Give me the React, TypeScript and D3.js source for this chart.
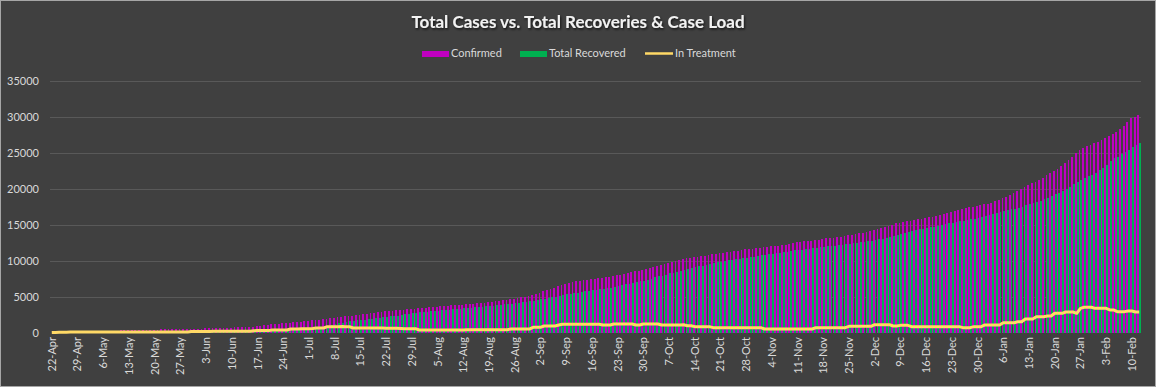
import React from 'react';
import * as d3 from 'd3';

const W = 1156;
const H = 387;
const FONT = 'Lato, "Liberation Sans", sans-serif';

const firstDay = new Date(2020, 3, 22);

// daily totals, one row per week
const confirmed = [
  60, 80, 100, 120, 150, 190, 235,
  240, 245, 250, 260, 265, 270, 280,
  290, 300, 310, 320, 340, 360, 380,
  400, 415, 420, 430, 440, 450, 460,
  470, 480, 490, 500, 505, 510, 520,
  530, 540, 555, 560, 580, 600, 620,
  640, 660, 680, 700, 715, 725, 735,
  760, 790, 810, 830, 850, 870, 900,
  950, 1000, 1060, 1120, 1180, 1240, 1300,
  1340, 1380, 1430, 1480, 1530, 1580, 1640,
  1690, 1740, 1790, 1840, 1900, 1960, 2030,
  2090, 2160, 2220, 2290, 2350, 2420, 2490,
  2540, 2600, 2680, 2760, 2840, 2920, 2980,
  3020, 3050, 3100, 3150, 3200, 3250, 3290,
  3340, 3380, 3420, 3470, 3510, 3560, 3600,
  3650, 3700, 3740, 3780, 3820, 3860, 3890,
  3930, 3960, 3980, 4030, 4090, 4150, 4200,
  4250, 4330, 4410, 4490, 4570, 4640, 4700,
  4780, 4860, 4950, 5050, 5150, 5260, 5400,
  5600, 5800, 5960, 6100, 6280, 6450, 6620,
  6790, 6920, 7050, 7170, 7250, 7320, 7380,
  7440, 7520, 7600, 7680, 7740, 7800, 7900,
  8000, 8100, 8200, 8300, 8420, 8530, 8640,
  8730, 8880, 9050, 9200, 9330, 9420, 9600,
  9750, 9880, 9980, 10100, 10210, 10330, 10450,
  10530, 10580, 10660, 10740, 10820, 10900, 10980,
  11060, 11140, 11200, 11270, 11350, 11430, 11520,
  11600, 11650, 11700, 11760, 11820, 11870, 11930,
  12000, 12060, 12120, 12150, 12200, 12400, 12520,
  12570, 12630, 12690, 12740, 12790, 12880, 12960,
  13050, 13120, 13170, 13230, 13290, 13360, 13440,
  13520, 13600, 13700, 13800, 13900, 14030, 14160,
  14290, 14400, 14510, 14650, 14800, 14990, 15200,
  15280, 15370, 15460, 15560, 15660, 15750, 15850,
  15940, 16030, 16120, 16250, 16380, 16530, 16680,
  16800, 16930, 17060, 17170, 17280, 17400, 17520,
  17650, 17760, 17830, 17950, 18080, 18250, 18430,
  18650, 18870, 19100, 19360, 19650, 19950, 20250,
  20500, 20750, 21000, 21250, 21550, 21900, 22200,
  22500, 22800, 23150, 23520, 23950, 24400, 24900,
  25360, 25650, 25900, 26100, 26300, 26510, 26750,
  27000, 27250, 27580, 27900, 28300, 28750, 29200,
  29760, 30000, 30210,
];

const recovered = [
  0, 0, 0, 0, 0, 0, 0,
  0, 0, 0, 0, 0, 0, 0,
  0, 0, 0, 0, 20, 100, 180,
  200, 200, 200, 200, 210, 210, 210,
  210, 210, 220, 220, 220, 220, 230,
  230, 230, 240, 240, 240, 250, 250,
  250, 260, 260, 270, 270, 280, 280,
  290, 290, 300, 300, 310, 320, 330,
  340, 360, 380, 400, 420, 430, 435,
  440, 450, 460, 480, 500, 510, 570,
  640, 700, 760, 830, 900, 970, 1100,
  1250, 1340, 1430, 1520, 1610, 1690, 1760,
  1800, 1860, 1920, 1970, 2030, 2100, 2170,
  2230, 2290, 2350, 2420, 2500, 2580, 2660,
  2730, 2790, 2850, 2910, 2960, 2990, 3030,
  3080, 3130, 3170, 3210, 3260, 3310, 3360,
  3420, 3470, 3510, 3560, 3610, 3650, 3700,
  3740, 3790, 3850, 3910, 3960, 4000, 4050,
  4100, 4180, 4250, 4330, 4410, 4490, 4570,
  4650, 4730, 4840, 4950, 5030, 5130, 5240,
  5360, 5440, 5520, 5600, 5700, 5800, 5880,
  5960, 6020, 6080, 6150, 6220, 6280, 6420,
  6550, 6650, 6760, 6860, 6960, 7060, 7150,
  7250, 7400, 7550, 7700, 7850, 7950, 8100,
  8250, 8380, 8500, 8620, 8750, 8860, 8980,
  9100, 9220, 9350, 9460, 9570, 9660, 9780,
  9900, 10000, 10080, 10150, 10230, 10300, 10370,
  10440, 10520, 10600, 10680, 10760, 10840, 10910,
  10980, 11050, 11130, 11200, 11280, 11360, 11450,
  11520, 11570, 11620, 11680, 11740, 11800, 11870,
  11940, 12000, 12060, 12120, 12180, 12250, 12330,
  12400, 12460, 12520, 12590, 12650, 12730, 12820,
  12900, 12980, 13060, 13180, 13300, 13440, 13580,
  13720, 13860, 14000, 14140, 14280, 14360, 14460,
  14560, 14650, 14740, 14850, 14960, 15070, 15180,
  15260, 15370, 15480, 15580, 15660, 15760, 15870,
  16000, 16130, 16260, 16400, 16540, 16680, 16810,
  16900, 17000, 17120, 17250, 17380, 17520, 17680,
  17850, 17970, 18150, 18350, 18550, 18750, 18950,
  19200, 19450, 19700, 20000, 20300, 20600, 20900,
  21200, 21450, 21700, 21950, 22200, 22590, 22900,
  23300, 23800, 24200, 24440, 24750, 25050, 25400,
  25820, 26050, 26290,
];

const inTreatment = [
  60, 80, 100, 110, 120, 130, 130,
  130, 130, 130, 140, 140, 140, 140,
  140, 140, 140, 140, 150, 150, 150,
  150, 150, 150, 150, 150, 150, 150,
  150, 150, 150, 150, 150, 150, 150,
  150, 150, 150, 210, 220, 220, 220,
  220, 220, 230, 230, 230, 230, 230,
  230, 240, 240, 240, 240, 250, 320,
  330, 330, 340, 330, 415, 415, 415,
  415, 415, 555, 555, 560, 600, 600,
  600, 610, 690, 690, 690, 880, 880,
  880, 880, 890, 880, 880, 690, 690,
  690, 700, 690, 690, 690, 690, 690,
  660, 650, 650, 650, 640, 600, 600,
  600, 600, 415, 415, 415, 415, 420,
  415, 415, 415, 415, 415, 420, 415,
  415, 460, 460, 460, 460, 460, 460,
  460, 460, 460, 460, 460, 460, 550,
  550, 550, 550, 550, 550, 780, 780,
  780, 970, 970, 970, 970, 1100, 1200,
  1200, 1200, 1200, 1210, 1200, 1200, 1200,
  1200, 1200, 1200, 1110, 1110, 1110, 1250,
  1250, 1250, 1250, 1250, 1250, 1110, 1110,
  1250, 1250, 1250, 1250, 1250, 1110, 1110,
  1110, 1110, 1110, 1110, 1150, 1010, 1010,
  880, 880, 880, 880, 880, 740, 740,
  740, 740, 740, 740, 740, 740, 740,
  740, 740, 740, 740, 740, 555, 555,
  555, 555, 555, 555, 555, 555, 555,
  555, 555, 555, 555, 555, 740, 740,
  740, 740, 740, 740, 740, 740, 740,
  920, 920, 920, 920, 920, 920, 920,
  1150, 1150, 1150, 1150, 1150, 970, 970,
  1060, 1060, 1060, 880, 880, 880, 880,
  880, 880, 880, 880, 880, 880, 880,
  880, 880, 880, 740, 740, 740, 880,
  880, 880, 1110, 1110, 1110, 1110, 1110,
  1430, 1430, 1430, 1430, 1570, 1570, 1940,
  1940, 1940, 2260, 2260, 2260, 2350, 2350,
  2730, 2730, 2730, 2910, 2910, 2910, 2730,
  3420, 3560, 3560, 3560, 3420, 3420, 3420,
  3420, 3190, 3190, 2960, 2960, 2960, 3050,
  3050, 2910, 2910,
];

const yTicks = [0, 5000, 10000, 15000, 20000, 25000, 30000, 35000];
const barSeries = ['Confirmed', 'Total Recovered'];
const colors: Record<string, string> = {
  'Confirmed': '#c000c0',
  'Total Recovered': '#00b050',
  'In Treatment': '#ffd966',
};

const days = confirmed.map((_, i) => d3.timeDay.offset(firstDay, i));
const fmt = d3.timeFormat('%-d-%b');

const left = 50, right = 1141, top = 80.5, bottom = 333;

export default function App() {
  const idx = d3.range(days.length);
  const x = d3.scaleBand<number>().domain(idx).range([left, right]).paddingInner(0.03);
  const inner = d3.scaleBand<string>().domain(barSeries).range([0, x.bandwidth()]);
  const y = d3.scaleLinear().domain([0, 35000]).range([bottom, top]);

  const line = d3.line<number>()
    .x((_, i) => (x(i) ?? 0) + x.bandwidth() / 2)
    .y((d) => y(d));

  const values: Record<string, number[]> = { 'Confirmed': confirmed, 'Total Recovered': recovered };

  return (
    <svg width={W} height={H} style={{ position: 'absolute', left: 0, top: 0, fontFamily: FONT }}>
      <defs>
        <filter id="shadow" x="-10%" y="-50%" width="120%" height="200%">
          <feDropShadow dx="1" dy="1.5" stdDeviation="1" floodColor="#000" floodOpacity="0.7" />
        </filter>
      </defs>
      <rect x={0.5} y={0.5} width={W - 1} height={H - 1} fill="#404040" stroke="#a6a6a6" />

      <text x={578} y={28} textAnchor="middle" fontSize={17} fontWeight="bold" fill="#f2f2f2" filter="url(#shadow)">
        Total Cases vs. Total Recoveries &amp; Case Load
      </text>

      {/* legend */}
      <g fontSize={11} fill="#d9d9d9">
        <rect x={422} y={51} width={27} height={6} fill={colors['Confirmed']} />
        <text x={451} y={57}>Confirmed</text>
        <rect x={520} y={51} width={27} height={6} fill={colors['Total Recovered']} />
        <text x={549} y={57}>Total Recovered</text>
        <line x1={645} x2={673} y1={53.5} y2={53.5} stroke={colors['In Treatment']} strokeWidth={2.5} />
        <text x={675} y={57}>In Treatment</text>
      </g>

      {/* grid + y axis */}
      {yTicks.map((t) => (
        <g key={t}>
          {t > 0 && <line x1={left} x2={right} y1={Math.round(y(t)) + 0.5} y2={Math.round(y(t)) + 0.5} stroke="#595959" />}
          <text x={39} y={y(t) + 4} textAnchor="end" fontSize={11} fill="#d9d9d9">{t}</text>
        </g>
      ))}

      {/* bars */}
      {barSeries.map((s) => (
        <g key={s} fill={colors[s]} shapeRendering="crispEdges">
          {values[s].map((v, i) => (
            <rect key={i} x={(x(i) ?? 0) + (inner(s) ?? 0)} width={inner.bandwidth()} y={y(v)} height={bottom - y(v)} />
          ))}
        </g>
      ))}

      <path d={line(inTreatment) ?? ''} fill="none" stroke={colors['In Treatment']} strokeWidth={3} strokeLinejoin="round" />

      {/* x axis labels, weekly */}
      <g fontSize={11} fill="#d9d9d9">
        {idx.filter((i) => i % 7 === 0).map((i) => {
          const cx = (x(i) ?? 0) + x.bandwidth() / 2;
          return (
            <text key={i} transform={`translate(${cx + 4},337) rotate(-90)`} textAnchor="end">
              {fmt(days[i])}
            </text>
          );
        })}
      </g>
    </svg>
  );
}
